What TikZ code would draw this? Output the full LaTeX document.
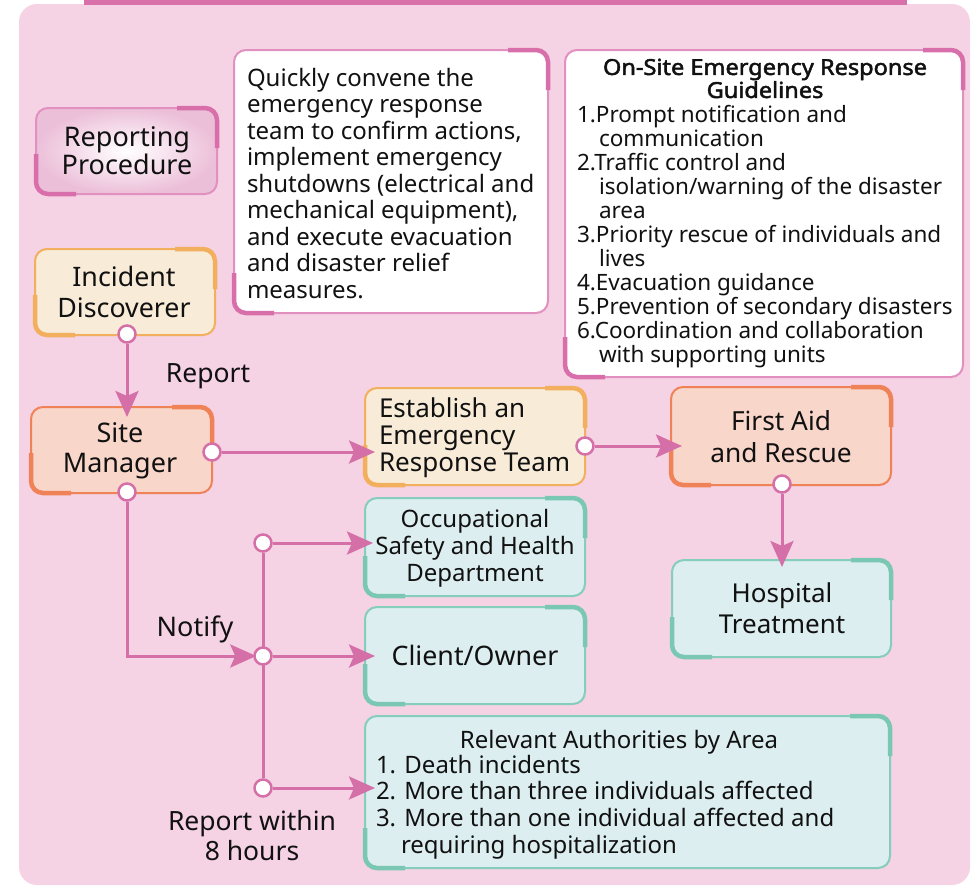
\documentclass[tikz,border=0pt]{standalone}
\usepackage{fontspec}
\setmainfont{Noto Sans}
\newfontfamily\titlef{Noto Sans}[FakeBold=2.2, FakeStretch=1.07]
\usetikzlibrary{arrows.meta}
\definecolor{bgc}{HTML}{F5D2E4}
\definecolor{topbar}{HTML}{D870A9}
\definecolor{connc}{HTML}{D56FA8}
\definecolor{pkB}{HTML}{E290C0}
\definecolor{pkA}{HTML}{D96FAA}
\definecolor{pkG1}{HTML}{ECBFD9}
\definecolor{orB}{HTML}{F2AF5E}
\definecolor{orF}{HTML}{F8ECD8}
\definecolor{rdB}{HTML}{F08257}
\definecolor{rdF}{HTML}{F9D6CA}
\definecolor{tlB}{HTML}{85CDBC}
\definecolor{tlA}{HTML}{7AC7B3}
\definecolor{tlF}{HTML}{DCEEF0}
\definecolor{txtc}{HTML}{111111}
\newcommand\fs[2]{\fontsize{#1}{#2}\selectfont}
\newcommand\ST{\vrule width0pt height0.8em depth0pt}
\newcommand\SB{\vrule width0pt height0pt depth0.25em}
\newcommand\accents[2]{%
  \draw[acc,#2] ([xshift=-40pt]#1.north east) -- (#1.north east) -- ([yshift=-40pt]#1.north east);
  \draw[acc,#2] ([yshift=40pt]#1.south west) -- (#1.south west) -- ([xshift=40pt]#1.south west);}
\pgfdeclarelayer{fg}
\pgfsetlayers{main,fg}
\begin{document}
\begin{tikzpicture}[x=1pt,y=-1pt,
  boxbase/.style={draw, line width=2pt, rounded corners=12pt, inner sep=0pt, outer sep=0pt},
  acc/.style={line width=4.5pt, rounded corners=12pt},
  txt/.style={inner sep=0pt, outer sep=0pt, text=txtc},
  conn/.style={draw=connc, line width=3pt},
  arr/.style={-{Stealth[length=26pt,width=23pt,inset=5pt]}},
  dot/.style={circle, draw=connc, fill=white, line width=2.5pt, minimum size=17pt, inner sep=0pt}]
\useasboundingbox (0,0) rectangle (971,886);
\fill[bgc, rounded corners=18pt] (19,4) rectangle (970,885);
\fill[topbar] (84,0) rectangle (907,4.5);

% boxes
\node[boxbase, draw=pkB, inner color=white, outer color=pkG1,
  minimum width=181pt, minimum height=86pt] (rep) at (126.5,151) {};
\accents{rep}{pkA}
\node[boxbase, draw=orB, fill=orF, minimum width=180pt, minimum height=86pt] (inc) at (125,292) {};
\accents{inc}{orB}
\node[boxbase, draw=rdB, fill=rdF, minimum width=181pt, minimum height=86pt] (sm) at (121.5,450) {};
\accents{sm}{rdB}
\node[boxbase, draw=pkB, fill=white, minimum width=314pt, minimum height=263pt] (quick) at (391,181.5) {};
\accents{quick}{pkA}
\node[boxbase, draw=pkB, fill=white, minimum width=398pt, minimum height=327pt] (guide) at (764,213.5) {};
\accents{guide}{pkA}
\node[boxbase, draw=orB, fill=orF, minimum width=220pt, minimum height=97pt] (est) at (475,436.5) {};
\accents{est}{orB}
\node[boxbase, draw=rdB, fill=rdF, minimum width=220pt, minimum height=98pt] (fa) at (781,436) {};
\accents{fa}{rdB}
\node[boxbase, draw=tlB, fill=tlF, minimum width=219pt, minimum height=97pt] (hosp) at (781.5,608.5) {};
\accents{hosp}{tlA}
\node[boxbase, draw=tlB, fill=tlF, minimum width=220pt, minimum height=98pt] (occ) at (475,547) {};
\accents{occ}{tlA}
\node[boxbase, draw=tlB, fill=tlF, minimum width=220pt, minimum height=97pt] (cli) at (475,655.5) {};
\accents{cli}{tlA}
\node[boxbase, draw=tlB, fill=tlF, minimum width=525pt, minimum height=152pt] (rel) at (627.5,792) {};
\accents{rel}{tlA}

% texts
\node[txt, font=\fs{27}{26}, align=center] (repT) at (127,152.6) {\ST Reporting\\Procedure\SB};
\node[txt, font=\fs{26.8}{31}, align=center] (incT) at (124,295.1) {\ST Incident\\Discoverer\SB};
\node[txt, font=\fs{27}{30}, align=center] (smT) at (120,449.6) {\ST Site\\Manager\SB};
\node[txt, font=\fs{26.5}{30}, anchor=base] (reportT) at (208,382) {Report};
\node[txt, font=\fs{24}{26.5}, align=left, anchor=north west] (quickT) at (247,66.8)
  {\ST Quickly convene the\\emergency response\\team to confirm actions,\\implement emergency\\shutdowns (electrical and\\mechanical equipment),\\and execute evacuation\\and disaster relief\\measures.\SB};
\node[txt, font=\fs{22}{23}\titlef, align=center] (guideH) at (765,80.4)
  {\ST On-Site Emergency Response\\Guidelines\SB};
\node[txt, font=\fs{22.5}{24}, align=left, anchor=north west] (guideT) at (577,104)
  {\ST 1.Prompt notification and\\\hspace*{22pt}communication\\2.Traffic control and\\\hspace*{22pt}isolation/warning of the disaster\\\hspace*{22pt}area\\3.Priority rescue of individuals and\\\hspace*{22pt}lives\\4.Evacuation guidance\\5.Prevention of secondary disasters\\6.Coordination and collaboration\\\hspace*{22pt}with supporting units\SB};
\node[txt, font=\fs{26}{27}, align=left, anchor=north west] (estT) at (379,396.2)
  {\ST Establish an\\Emergency\\Response Team\SB};
\node[txt, font=\fs{26.3}{32}, align=center] (faT) at (781,438.8) {\ST First Aid\\and Rescue\SB};
\node[txt, font=\fs{26}{31}, align=center] (hospT) at (782,610.4) {\ST Hospital\\Treatment\SB};
\node[txt, font=\fs{24}{27}, align=center] (occT) at (475,547.4) {\ST Occupational\\Safety and Health\\Department\SB};
\node[txt, font=\fs{26.8}{30}, anchor=base] (cliT) at (475,665) {Client/Owner};
\node[txt, font=\fs{27}{30}, anchor=base] (notT) at (195,636) {Notify};
\node[txt, font=\fs{24}{26.7}, anchor=base] (relH) at (619,748) {Relevant Authorities by Area};
\node[txt, font=\fs{24}{26.7}, align=left, anchor=north west] (relT) at (376,753.8)
  {\ST 1. Death incidents\\2. More than three individuals affected\\3. More than one individual affected and\\\hspace*{25pt}requiring hospitalization\SB};
\node[txt, font=\fs{26.5}{30}, align=center] (r8T) at (252,837.7) {\ST Report within\\8 hours\SB};

% connection dots
\begin{pgfonlayer}{fg}
\node[dot] (c1) at (127,334) {};
\node[dot] (c2) at (212,452) {};
\node[dot] (c3) at (127,492) {};
\node[dot] (c4) at (585,446) {};
\node[dot] (c5) at (782,484) {};
\node[dot] (j1) at (263,543) {};
\node[dot] (j2) at (263,656) {};
\node[dot] (j3) at (263,788) {};
\end{pgfonlayer}

% connectors
\draw[conn, arr, shorten >=-10pt] (c1) -- (c1 |- sm.north);
\draw[conn, arr, shorten >=-10pt] (c2) -- (c2 -| est.west);
\draw[conn, arr, shorten >=-11pt] (c4) -- (c4 -| fa.west);
\draw[conn, arr, shorten >=-7pt] (c5) -- (c5 |- hosp.north);
\draw[conn, arr, shorten >=-3pt] (c3) |- (j2);
\draw[conn] (j1) -- (j3);
\draw[conn, arr, shorten >=-8pt] (j1) -- (j1 -| occ.west);
\draw[conn, arr, shorten >=-10pt] (j2) -- (j2 -| cli.west);
\draw[conn, arr, shorten >=-10pt] (j3) -- (j3 -| rel.west);
\end{tikzpicture}
\end{document}
